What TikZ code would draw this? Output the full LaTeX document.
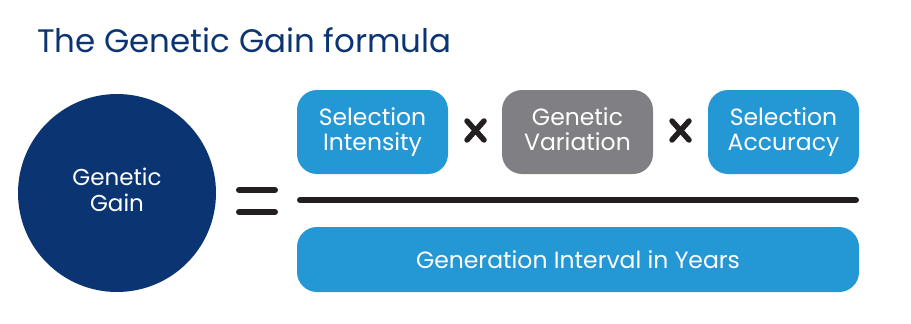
\documentclass[tikz,border=0pt]{standalone}
\usepackage{fontspec}
\setmainfont{Poppins}
\definecolor{navy}{HTML}{0B3572}
\definecolor{skyb}{HTML}{2497D5}
\definecolor{greyb}{HTML}{808084}
\definecolor{inkb}{HTML}{231F20}
\begin{document}
\begin{tikzpicture}[x=1pt,y=-1pt,
  boxst/.style={fill=skyb,rounded corners=20pt,text=white,align=center,font=\fontsize{23.5}{25.5}\selectfont,inner sep=0pt},
  barst/.style={line width=6pt,line cap=round,draw=inkb}]
\useasboundingbox (0,0) rectangle (911,324);
\node[anchor=base west,text=navy,font=\fontsize{32.5}{38}\selectfont,inner sep=0pt] (title) at (37,52) {The Genetic Gain formula};
\node[circle,fill=navy,minimum size=198pt,inner sep=0pt,text=white,align=center,font=\fontsize{23}{26}\selectfont] (gain) at (117,193) {Genetic\\Gain\vphantom{y}};
\coordinate (e1a) at (239,190); \coordinate (e1b) at (275,190);
\coordinate (e2a) at (239,212); \coordinate (e2b) at (275,212);
\draw[barst] (e1a) -- (e1b);
\draw[barst] (e2a) -- (e2b);
\node[boxst,minimum width=151pt,minimum height=84pt] (si) at (372.5,132) {Selection\\Intensity\vphantom{y}};
\node[boxst,fill=greyb,minimum width=151pt,minimum height=84pt] (gv) at (577.5,132) {Genetic\\Variation\vphantom{y}};
\node[boxst,minimum width=151pt,minimum height=84pt] (sa) at (783.5,132) {Selection\\Accuracy\vphantom{y}};
\coordinate (x1a) at (467,121); \coordinate (x1b) at (484,140);
\coordinate (x1c) at (467,140); \coordinate (x1d) at (484,121);
\draw[barst,line width=5.5pt] (x1a) -- (x1b) (x1c) -- (x1d);
\coordinate (x2a) at (672,121); \coordinate (x2b) at (689,140);
\coordinate (x2c) at (672,140); \coordinate (x2d) at (689,121);
\draw[barst,line width=5.5pt] (x2a) -- (x2b) (x2c) -- (x2d);
\coordinate (la) at (300,200); \coordinate (lb) at (856,200);
\draw[barst] (la) -- (lb);
\node[boxst,minimum width=562pt,minimum height=65pt,font=\fontsize{23.5}{26}\selectfont] (gi) at (578,259.5) {Generation Interval in Years};
\end{tikzpicture}
\end{document}
